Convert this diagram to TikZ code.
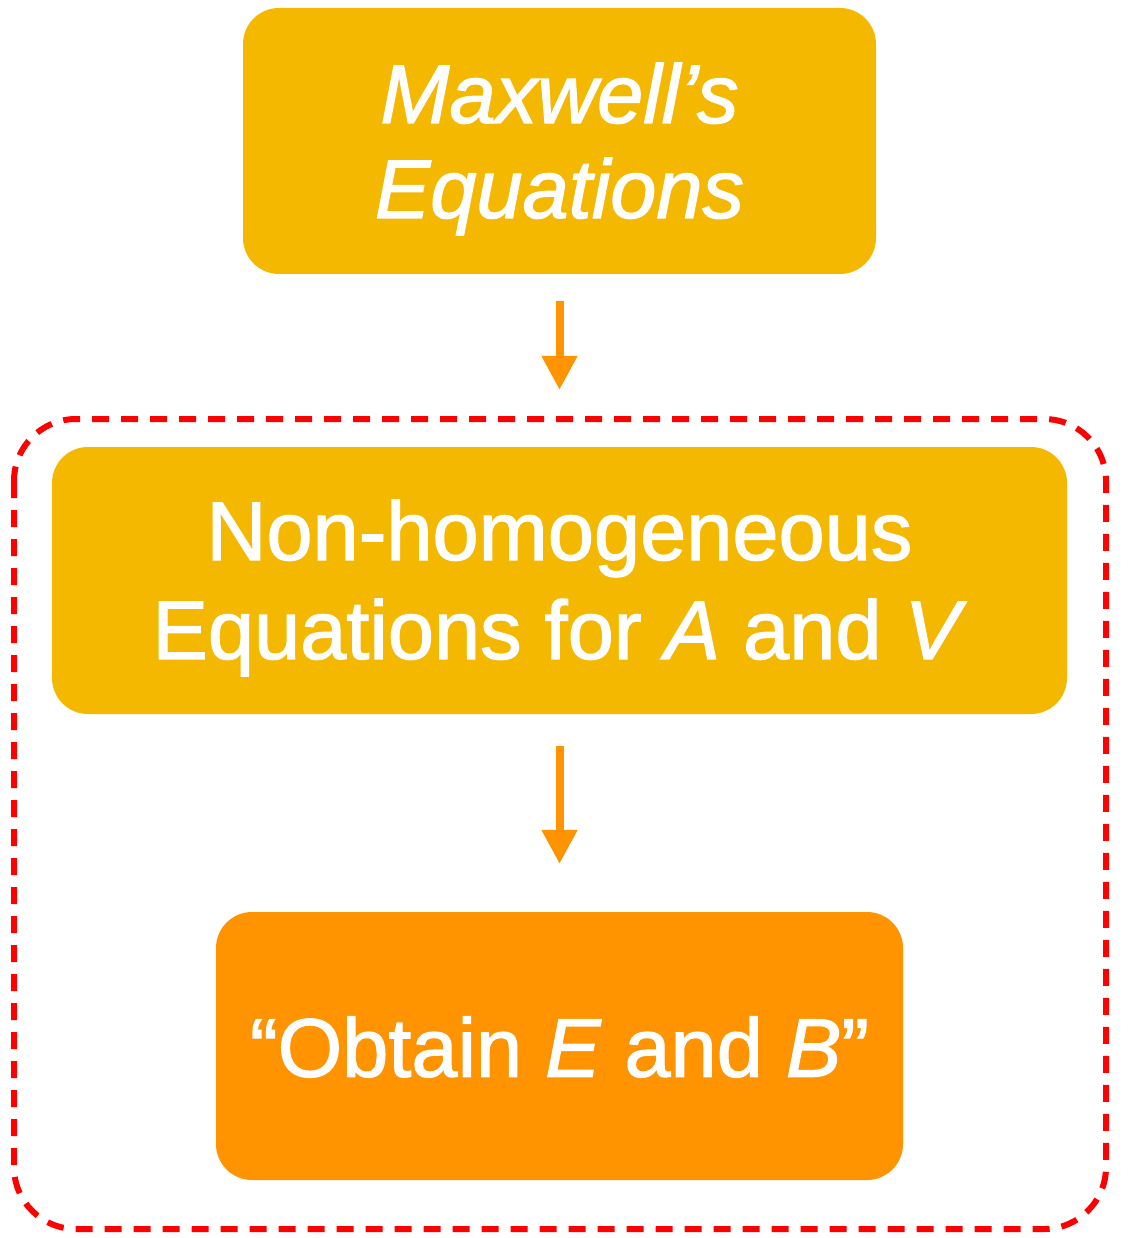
\documentclass[tikz,border=0pt]{standalone}
\usepackage{fontspec}
\setmainfont{Liberation Sans}
\newfontfamily\boxfont{Liberation Sans}[FakeBold=1.5]
\usetikzlibrary{arrows.meta}
\definecolor{boxyellow}{HTML}{F5B800}
\definecolor{boxorange}{HTML}{FF9300}
\definecolor{arrorange}{HTML}{FF9300}
\definecolor{dashred}{HTML}{FF0000}
\begin{document}
\begin{tikzpicture}[x=1pt,y=-1pt,
  box/.style={rounded corners=36pt, inner sep=0pt},
  label text/.style={inner sep=0pt, align=center, text=white,
     font=\boxfont\fontsize{83}{97}\selectfont},
  flow/.style={draw=arrorange, line width=8pt,
     -{Triangle[length=34pt,width=34pt]}},
  group/.style={draw=dashred, line width=6pt, dash pattern=on 17pt off 12pt, rounded corners=62pt}]
\useasboundingbox (0,0) rectangle (1128,1238);
\node[box, fill=boxyellow, minimum width=633pt, minimum height=266pt] (max) at (559.5,141) {};
\node[label text, font=\boxfont\fontsize{83}{95}\selectfont] (maxt) at (559.5,149)
  {\itshape Maxwell’s\\\itshape Equations};
\node[box, fill=boxyellow, minimum width=1015pt, minimum height=267pt] (nh) at (559.5,580.5) {};
\node[label text, font=\boxfont\fontsize{83}{99}\selectfont] (nht) at (559.5,588)
  {Non-homogeneous\\Equations for \textit{A} and \textit{V}};
\node[box, fill=boxorange, minimum width=687pt, minimum height=268pt] (ob) at (559.5,1046) {};
\node[label text] (obt) at (559.5,1047)
  {“Obtain \textit{E} and \textit{B}”};
\coordinate (g1) at (14,419);
\coordinate (g2) at (1106,1229);
\draw[group] (g1) rectangle (g2);
\draw[flow] ([yshift=-27pt]max.south) -- ([yshift=57pt]nh.north);
\draw[flow] ([yshift=-32pt]nh.south) -- ([yshift=48pt]ob.north);
\end{tikzpicture}
\end{document}
